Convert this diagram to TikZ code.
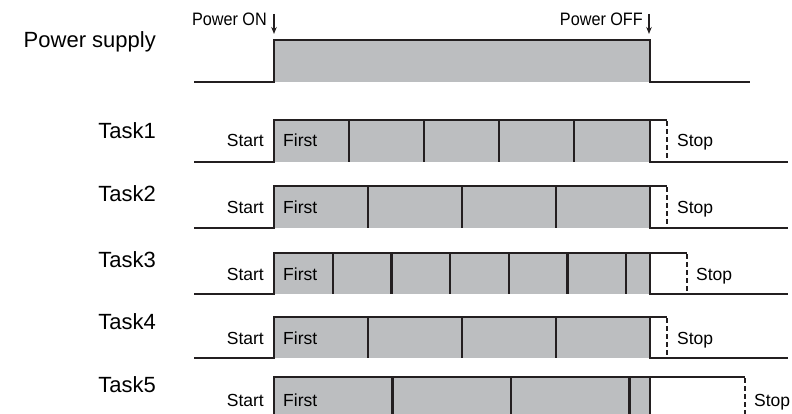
\documentclass[tikz,border=0pt]{standalone}
\usepackage{fontspec}
\setmainfont{Liberation Sans}
\newfontfamily\narrowfont[FakeStretch=0.9]{Liberation Sans}
\usetikzlibrary{arrows.meta}
\definecolor{slotgray}{HTML}{BCBEC0}
\definecolor{inkblack}{HTML}{231F20}
\tikzset{
	wave/.style={line width=2.5pt, color=inkblack, line join=miter},
	slot/.style={line width=2.3pt, color=inkblack},
	stopline/.style={line width=2.3pt, color=inkblack, dash pattern=on 4.5pt off 3.5pt},
	rowname/.style={anchor=base east, inner sep=0pt, font=\fontsize{22}{26}\selectfont},
	tag/.style={inner sep=0pt, font=\fontsize{17.5}{21}\selectfont},
	powertag/.style={anchor=base east, inner sep=0pt, font=\narrowfont\fontsize{18}{21}\selectfont}
}
% one task row: (top:bottom:stop x){dividers}
\def\taskrow(#1:#2:#3)#4{
	\fill[slotgray] (274, #1) rectangle (650, #2);
	\foreach \d in {#4} \draw[slot] (\d, #1) -- (\d, #2);
	\draw[wave] (194, #2) -- (274, #2) -- (274, #1) -- (#3, #1);
	\draw[stopline] (#3, #1+1.2) -- (#3, #2);
	\draw[wave] (650, #1) -- (650, #2) -- (788, #2);
}

\begin{document}
\begin{tikzpicture}[x=1pt, y=-1pt]
			%%%%% START %%%%%
			\useasboundingbox (0, 0) rectangle (792, 414);
			
			% power supply
			\node[rowname] (power) at (156, 48) {Power supply};
			\fill[slotgray] (274, 40) rectangle (650, 82);
			\draw[wave] (194, 82) -- (274, 82) -- (274, 40) -- (650, 40) -- (650, 82) -- (750, 82);
			
			\node[powertag] (on) at (267, 26) {Power ON};
			\node[powertag] (off) at (643, 26) {Power OFF};
			\coordinate (ontop) at (274, 14);
			\coordinate (onend) at (274, 34);
			\coordinate (offtop) at (649, 14);
			\coordinate (offend) at (649, 34);
			\draw[line width=1.3pt, color=inkblack, -{Stealth[length=7pt, width=5.5pt]}] (ontop) -- (onend);
			\draw[line width=1.3pt, color=inkblack, -{Stealth[length=7pt, width=5.5pt]}] (offtop) -- (offend);
			
			% task rows
			\taskrow(120:162:667){349, 424, 499, 574}
			\taskrow(186:228:667){368, 462, 556}
			\taskrow(253:294:687){332.7, 391.4, 450, 508.8, 567.5, 626}
			\taskrow(317:358:667){368, 462, 556}
			\taskrow(377:419:745){392.5, 511, 629.5}
			
			\node[rowname] (task1) at (156, 139) {Task1};
			\node[rowname] (task2) at (156, 202) {Task2};
			\node[rowname] (task3) at (156, 267) {Task3};
			\node[rowname] (task4) at (156, 329) {Task4};
			\node[rowname] (task5) at (156, 392) {Task5};
			
			\node[tag, anchor=base east] (start1) at (264, 147) {Start};
			\node[tag, anchor=base west] (first1) at (283, 147) {First};
			\node[tag, anchor=base west] (stop1) at (677, 147) {Stop};
			
			\node[tag, anchor=base east] (start2) at (264, 213) {Start};
			\node[tag, anchor=base west] (first2) at (283, 213) {First};
			\node[tag, anchor=base west] (stop2) at (677, 213) {Stop};
			
			\node[tag, anchor=base east] (start3) at (264, 280) {Start};
			\node[tag, anchor=base west] (first3) at (283, 280) {First};
			\node[tag, anchor=base west] (stop3) at (696, 280) {Stop};
			
			\node[tag, anchor=base east] (start4) at (264, 344) {Start};
			\node[tag, anchor=base west] (first4) at (283, 344) {First};
			\node[tag, anchor=base west] (stop4) at (677, 344) {Stop};
			
			\node[tag, anchor=base east] (start5) at (264, 406) {Start};
			\node[tag, anchor=base west] (first5) at (283, 406) {First};
			\node[tag, anchor=base west] (stop5) at (754, 406) {Stop};
			%%%%% END %%%%%
\end{tikzpicture}
\end{document}
